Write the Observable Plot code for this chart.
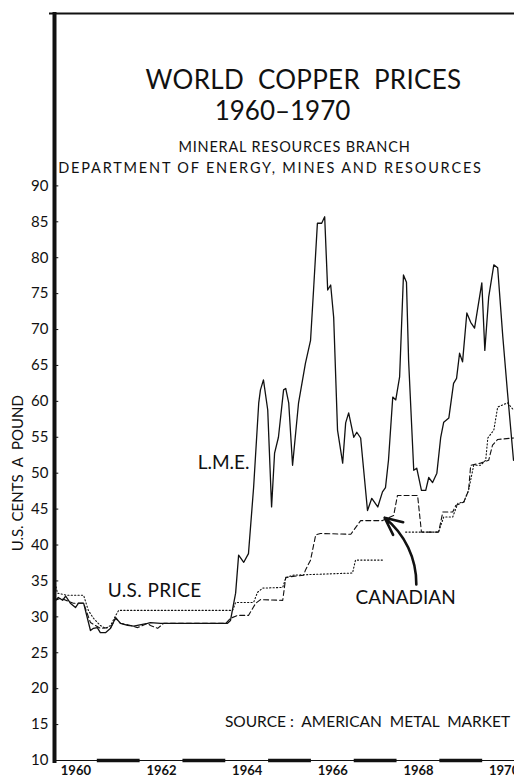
<!DOCTYPE html>
<html><head><meta charset="utf-8">
<script src="https://cdn.jsdelivr.net/npm/d3@7"></script>
<script src="https://cdn.jsdelivr.net/npm/@observablehq/plot@0.6"></script>
<style>
html,body{margin:0;padding:0;background:#fff;overflow:hidden;width:514px;height:778px}
#chart svg{display:block;max-width:none !important;width:530px !important;height:778px !important}
</style></head><body><div id="chart"></div>
<script>
// ---- data (fractional years, U.S. cents a pound) ----
const lmeYears = [1960.02,1960.09,1960.19,1960.26,1960.37,1960.49,1960.56,1960.68,1960.84,1960.91,1961.00,1961.07,1961.19,1961.31,1961.43,1961.54,1961.71,1961.85,1962.17,1962.24,1962.48,1964.04,1964.11,1964.23,1964.30,1964.42,1964.53,1964.65,1964.77,1964.81,1964.88,1964.98,1965.07,1965.14,1965.23,1965.35,1965.40,1965.47,1965.56,1965.70,1965.86,1965.98,1966.05,1966.14,1966.24,1966.31,1966.38,1966.45,1966.52,1966.61,1966.73,1966.80,1966.87,1966.99,1967.06,1967.15,1967.31,1967.41,1967.55,1967.66,1967.73,1967.80,1967.90,1967.97,1968.06,1968.15,1968.22,1968.27,1968.39,1968.46,1968.57,1968.67,1968.74,1968.83,1968.93,1969.02,1969.09,1969.21,1969.32,1969.39,1969.46,1969.53,1969.63,1969.72,1969.81,1969.98,1970.05,1970.14,1970.26,1970.35,1970.47,1970.58,1970.72];
const lmeCents = [32.3,32.7,32.3,32.9,31.9,31.3,31.9,31.9,28.1,28.4,28.5,27.8,27.8,28.4,29.9,29.1,28.8,28.7,29.1,29.2,29.1,29.1,29.5,33.3,38.6,37.6,38.8,48.0,59.8,61.6,63.0,58.8,45.3,52.8,55.0,61.6,61.8,59.8,51.1,59.8,65.3,68.5,75.5,84.8,84.8,85.7,75.5,76.2,71.7,56.0,51.4,57.0,58.4,55.0,55.7,54.9,44.8,46.5,45.3,47.4,48.0,51.8,60.6,60.2,63.4,77.6,76.6,65.7,50.4,50.7,47.6,47.6,49.4,48.7,50.0,55.0,57.1,57.7,62.5,63.2,66.7,65.5,72.3,71.0,70.2,76.5,67.1,74.5,79.0,78.6,69.0,61.2,51.8];

const usYears = [1960.00,1960.07,1960.30,1960.68,1960.79,1960.91,1961.07,1961.19,1961.31,1961.43,1961.50,1964.16,1964.23,1964.65,1964.74,1964.86,1965.33,1965.40,1965.56,1966.96,1967.03,1967.66,1967.90,1968.20,1968.97,1969.09,1969.30,1969.42,1969.56,1969.67,1969.79,1969.95,1970.07,1970.12,1970.26,1970.35,1970.58,1970.72];
const usCents = [35.1,33.3,33.0,33.0,30.9,29.8,28.8,28.4,28.8,30.2,30.9,30.9,32.0,32.0,33.4,34.0,34.1,35.4,35.8,36.1,37.9,37.9,null,41.8,41.8,43.9,43.9,45.8,46.0,47.6,51.1,51.1,51.8,54.9,56.0,59.2,59.8,58.8];

const canYears = [1960.02,1960.14,1960.44,1960.68,1960.84,1961.07,1961.31,1961.43,1961.54,1961.78,1961.94,1962.17,1962.24,1962.41,1962.55,1964.00,1964.11,1964.28,1964.53,1964.63,1964.70,1964.81,1965.33,1965.37,1965.40,1965.82,1965.86,1965.98,1966.10,1966.21,1966.92,1967.15,1967.66,1967.92,1968.01,1968.48,1968.57,1968.97,1969.07,1969.30,1969.37,1969.56,1969.67,1969.72,1969.95,1970.14,1970.23,1970.35,1970.72];
const canCents = [32.3,32.6,31.9,31.9,29.2,28.4,28.5,29.8,29.1,28.8,28.5,29.1,28.8,28.4,29.1,29.1,29.8,30.2,30.2,31.2,31.9,32.4,32.3,34.1,35.5,35.8,36.5,37.9,41.4,41.6,41.5,43.4,43.4,44.1,46.9,46.9,41.8,41.8,44.6,44.6,45.5,46.0,47.6,51.1,51.4,51.8,53.9,54.7,54.9];

const yTicks = [10,15,20,25,30,35,40,45,50,55,60,65,70,75,80,85,90];
const xLabels = [1960,1962,1964,1966,1968,1970];
const oddYears = [1961,1963,1965,1967,1969];

const titleLines = ["WORLD\u00a0\u00a0COPPER\u00a0\u00a0PRICES", "1960\u20131970", "MINERAL RESOURCES BRANCH", "DEPARTMENT OF ENERGY, MINES AND RESOURCES"];
const yLabel = [{text: "U.S.\u00a0CENTS\u00a0\u00a0A\u00a0\u00a0POUND", year: 1960, cents: 50}];
const seriesLabels = [
  {text: "L.M.E.", year: 1963.95, cents: 51.4},
  {text: "U.S. PRICE", year: 1962.34, cents: 33.6},
  {text: "CANADIAN", year: 1968.2, cents: 32.6}
];
const sourceNote = [{text: "SOURCE :\u00a0\u00a0AMERICAN\u00a0\u00a0METAL\u00a0\u00a0MARKET", year: 1967.31, cents: 15.3}];
const arrowData = [{fromYear: 1968.45, fromCents: 34.5, toYear: 1967.71, toCents: 43.8}];
const yTop = 114;

const toRows = (xs, ys) => xs.map((x, i) => ({year: x, cents: ys[i]}));
const lme = toRows(lmeYears, lmeCents);
const us = toRows(usYears, usCents);
const can = toRows(canYears, canCents);

const font = "Lato, 'DejaVu Sans', sans-serif";

const chart = Plot.plot({
  width: 530, height: 778,
  marginLeft: 54, marginRight: 5, marginTop: 13, marginBottom: 18,
  style: {fontFamily: font, background: "white", color: "#111"},
  x: {domain: [1960, 1971], axis: null},
  y: {domain: [10, yTop], axis: null},
  marks: [
    // frame lines
    Plot.ruleY([yTop], {stroke: "#111", strokeWidth: 2, insetLeft: -5}),
    Plot.ruleY([10], {stroke: "#111", strokeWidth: 1}),
    Plot.ruleY(oddYears, {x1: d => d, x2: d => d + 1, y: 10, stroke: "#111", strokeWidth: 3.5}),
    Plot.ruleX([1960], {stroke: "#111", strokeWidth: 4, insetBottom: -3, insetTop: -1}),
    Plot.ruleY(yTicks, {x1: 1960, x2: 1960.1, y: d => d, stroke: "#111", strokeWidth: 1}),
    // y axis tick labels
    Plot.axisY({ticks: yTicks, tickSize: 0, tickPadding: 6, fontSize: 15, label: null}),
    Plot.text(yLabel, {x: "year", y: "cents", text: "text", dx: -36, rotate: -90, fontSize: 15, fill: "#111"}),
    // x axis labels centred in year spans
    Plot.text(xLabels, {x: d => d + 0.5, y: 10, text: d => String(d), dy: 10, fontSize: 13, fontWeight: "bold", fill: "#111"}),
    // series
    Plot.line(can, {x: "year", y: "cents", stroke: "#111", strokeWidth: 1.1, strokeDasharray: "5,3"}),
    Plot.line(us, {x: "year", y: "cents", stroke: "#111", strokeWidth: 1.1, strokeDasharray: "1.2,2.2"}),
    Plot.line(lme, {x: "year", y: "cents", stroke: "#111", strokeWidth: 1.3}),
    // arrow
    Plot.arrow(arrowData, {x1: "fromYear", y1: "fromCents", x2: "toYear", y2: "toCents", bend: -26, stroke: "#111", strokeWidth: 2.6, headLength: 11, headAngle: 50}),
    // labels
    Plot.text(seriesLabels, {x: "year", y: "cents", text: "text", fontSize: 19, fill: "#111"}),
    Plot.text(sourceNote, {x: "year", y: "cents", text: "text", fontSize: 15.5, fill: "#111"}),
    // titles
    Plot.text([titleLines[0]], {frameAnchor: "top", lineAnchor: "middle", dx: 13.5, dy: 67, fontSize: 26, fill: "#111"}),
    Plot.text([titleLines[1]], {frameAnchor: "top", lineAnchor: "middle", dx: -7.5, dy: 98, fontSize: 26, fill: "#111"}),
    Plot.text([titleLines[2]], {frameAnchor: "top", lineAnchor: "middle", dx: 4.5, dy: 134, fontSize: 14.5, fill: "#111"}),
    Plot.text([titleLines[3]], {frameAnchor: "top", lineAnchor: "middle", dx: -19.5, dy: 155, fontSize: 14.5, fill: "#111"})
  ]
});
document.getElementById("chart").appendChild(chart);
// letter spacing to match the wide lettering of the original
const spacing = new Map([[titleLines[0], "0.3px"], [titleLines[2], "0.8px"], [titleLines[3], "1.8px"], [seriesLabels[1].text, "0.4px"]]);
d3.select(chart).selectAll("text").each(function() {
  const s = spacing.get(this.textContent);
  if (s) this.setAttribute("letter-spacing", s);
});
</script>
</body></html>
